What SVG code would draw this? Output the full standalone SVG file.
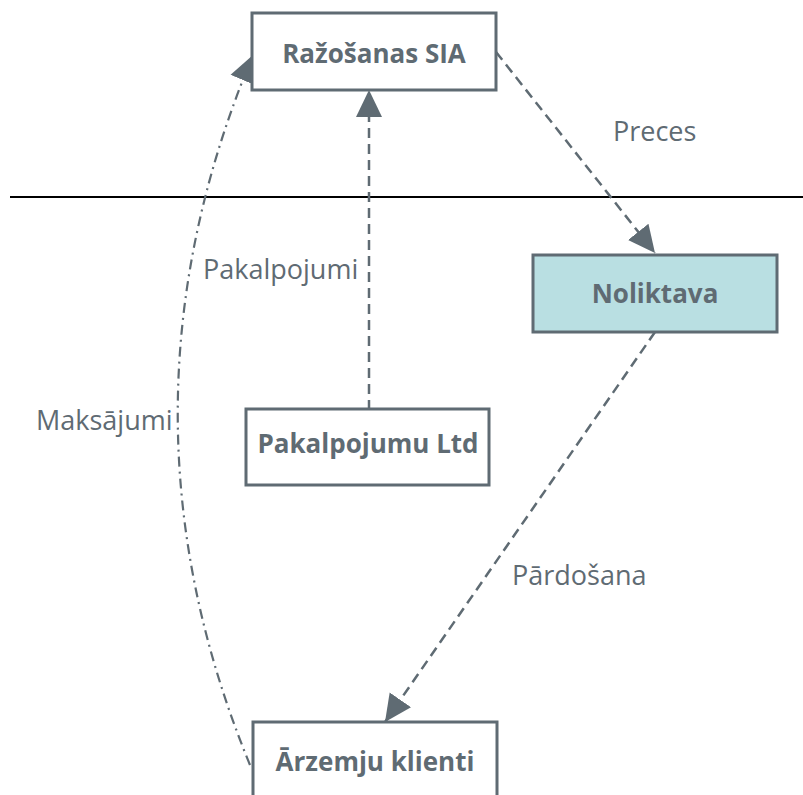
<svg xmlns="http://www.w3.org/2000/svg" width="803" height="795" viewBox="0 0 803 795">
  <style>
    .box { fill: #ffffff; stroke: #5f6b73; stroke-width: 3; }
    .box.store { fill: #b9dfe2; }
    .name { font-family: "Open Sans", "Noto Sans", sans-serif; font-weight: bold; font-size: 26px; fill: #5f6b73; text-anchor: middle; }
    .lbl { font-family: "Open Sans", "Noto Sans", sans-serif; font-size: 27px; fill: #5f6b73; }
    .dash { fill: none; stroke: #5f6b73; stroke-width: 2.5; stroke-dasharray: 10 6; }
    .dashdot { fill: none; stroke: #5f6b73; stroke-width: 2.2; stroke-dasharray: 10 5 2 5; }
  </style>
  <defs>
    <marker id="arrow" markerUnits="userSpaceOnUse" markerWidth="28" markerHeight="28" viewBox="0 0 28 28" refX="27" refY="14" orient="auto">
      <path d="M0,1 L27,14 L0,27 Z" fill="#5f6b73"/>
    </marker>
  </defs>

  <rect width="803" height="795" fill="#ffffff"/>

  <!-- divider -->
  <line x1="10" y1="197" x2="803" y2="197" stroke="#000000" stroke-width="2"/>

  <g id="connectors">
    <path class="dash" d="M496,52 L655,253" marker-end="url(#arrow)"/>
    <path class="dash" d="M369,410 L369,90" marker-end="url(#arrow)"/>
    <path class="dash" d="M655,332 L385,722" marker-end="url(#arrow)"/>
    <path class="dashdot" d="M250,765 Q104,410 253,55" marker-end="url(#arrow)"/>
  </g>

  <g id="labels">
    <text class="lbl" x="613" y="141">Preces</text>
    <text class="lbl" x="203" y="279">Pakalpojumi</text>
    <text class="lbl" x="36" y="430">Maksājumi</text>
    <text class="lbl" x="512" y="585">Pārdošana</text>
  </g>

  <g id="razosanas">
    <rect class="box" x="252" y="13" width="244" height="77"/>
    <text class="name" x="374" y="63">Ražošanas SIA</text>
  </g>

  <g id="noliktava">
    <rect class="box store" x="533" y="255" width="244" height="77"/>
    <text class="name" x="655" y="303">Noliktava</text>
  </g>

  <g id="pakalpojumu">
    <rect class="box" x="246" y="409" width="243" height="76"/>
    <text class="name" x="368" y="453">Pakalpojumu Ltd</text>
  </g>

  <g id="arzemju">
    <rect class="box" x="253" y="722" width="244" height="90"/>
    <text class="name" x="375" y="771">Ārzemju klienti</text>
  </g>
</svg>
